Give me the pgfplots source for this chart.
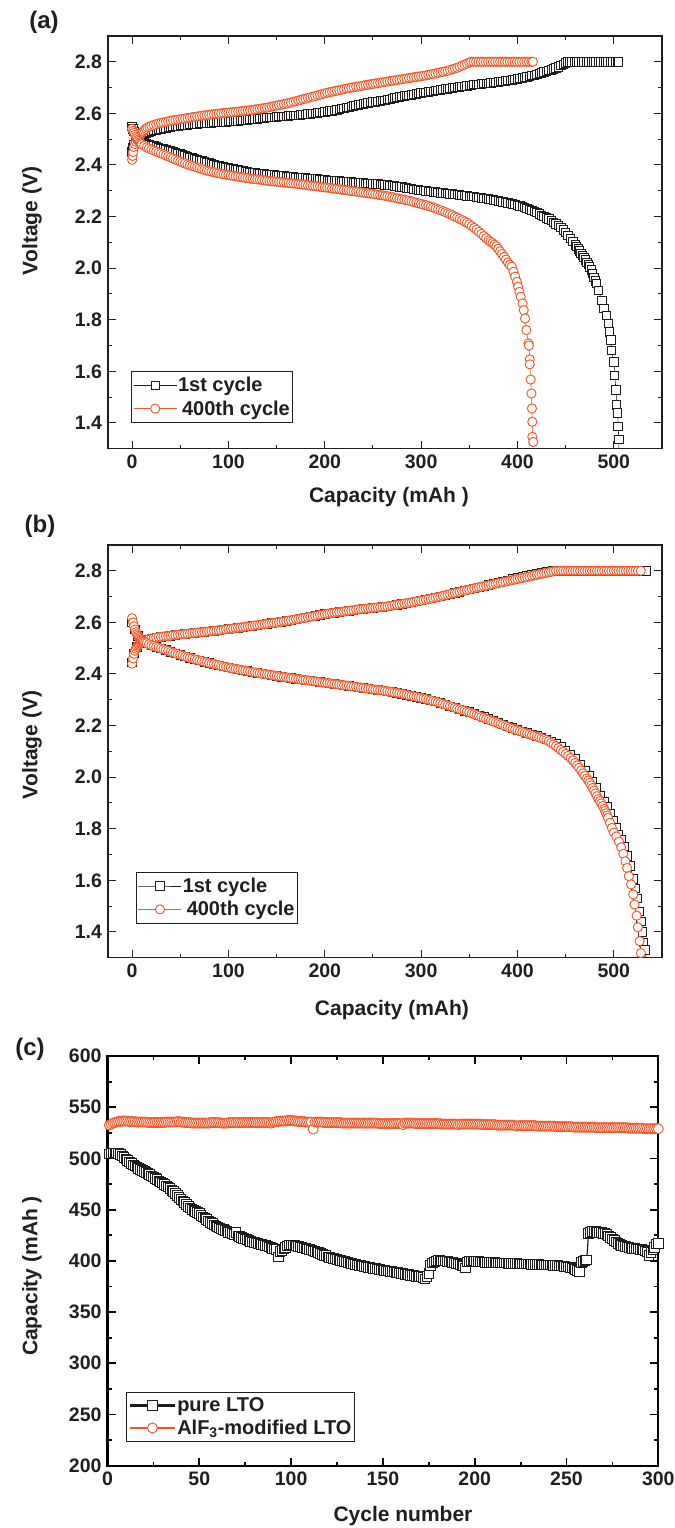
\documentclass[border=0pt]{standalone}
\usepackage{pgfplots}
\pgfplotsset{compat=1.18}
\usepackage{fontspec}
\setmainfont{Liberation Sans}
\definecolor{lto}{RGB}{30,28,29}
\definecolor{alf}{RGB}{240,86,40}
\definecolor{ink}{RGB}{32,30,31}

\pgfplotsset{
  common/.style={
    scale only axis, clip mode=individual,
    tick align=inside,
    major tick length=8bp, minor tick length=4bp,
    /pgf/number format/assume math mode=true,
    tick label style={font=\fontsize{19.5bp}{23bp}\selectfont\bfseries, text=ink},
    xticklabel style={yshift=-3bp},
    yticklabel style={xshift=-2.5bp},
    legend cell align=left,
  },
  vpanel/.style={
    common,
    width=554bp, height=412.7bp,
    xmin=-25, xmax=550, ymin=1.3, ymax=2.9,
    xtick={0,100,200,300,400,500}, minor x tick num=1,
    ytick={1.4,1.6,1.8,2.0,2.2,2.4,2.6,2.8}, minor y tick num=1,
    yticklabel style={/pgf/number format/.cd, fixed, fixed zerofill, precision=1},
    axis line style={line width=1.1bp, draw=ink},
    tick style={line width=1bp, draw=ink},
    legend style={draw=ink, line width=0.9bp, fill=white,
      font=\fontsize{20bp}{24bp}\selectfont\bfseries, text=ink,
      inner xsep=2bp, inner ysep=1.5bp, row sep=-1bp,
      nodes={inner xsep=1bp, inner ysep=4.2bp}},
    legend image code/.code={\draw[mark repeat=2,mark phase=2]
      plot coordinates {(0bp,0bp) (21.5bp,0bp) (43bp,0bp)};},
  },
  sq/.style={lto, line width=0.6bp, mark=square*, mark size=4.2bp,
    mark options={fill=white, line width=0.9bp, solid}},
  ci/.style={alf, line width=0.6bp, mark=*, mark size=4.6bp,
    mark options={fill=white, line width=0.9bp, solid}},
}

\begin{document}
\begin{tikzpicture}[font=\bfseries, text=ink]
\path[use as bounding box] (0bp,0bp) rectangle (675bp,1528bp);

%% ---------------- (a) ----------------
\begin{axis}[vpanel, at={(108bp,1079.3bp)}, anchor=south west,
  legend style={at={(0.0415,0.188)}, anchor=north west}]
% 1st cycle, charge
\addplot[sq] coordinates {(0,2.450)(1,2.468)(2,2.480)(3.5,2.492)(5,2.500)(7.5,2.509)(10,2.515)(12.5,2.519)(15,2.523)(17.5,2.527)(20,2.530)(22.5,2.533)(25,2.535)(27.5,2.538)(30,2.540)(32.5,2.542)(35,2.544)(37.5,2.546)(40,2.548)(42.5,2.549)(45,2.550)(47.5,2.551)(50,2.552)(52.5,2.553)(55,2.554)(57.5,2.555)(60,2.556)(62.5,2.557)(65,2.558)(67.5,2.559)(70,2.560)(72.5,2.560)(75,2.561)(77.5,2.562)(80,2.563)(82.5,2.563)(85,2.564)(87.5,2.565)(90,2.565)(92.5,2.566)(95,2.567)(97.5,2.567)(100,2.568)(102.5,2.569)(105,2.570)(107.5,2.570)(110,2.571)(112.5,2.572)(115,2.573)(117.5,2.574)(120,2.575)(122.5,2.576)(125,2.577)(127.5,2.578)(130,2.579)(132.5,2.580)(135,2.581)(137.5,2.582)(140,2.583)(142.5,2.584)(145,2.585)(147.5,2.585)(150,2.586)(152.5,2.587)(155,2.588)(157.5,2.588)(160,2.589)(162.5,2.590)(165,2.591)(167.5,2.591)(170,2.592)(172.5,2.593)(175,2.594)(177.5,2.595)(180,2.596)(182.5,2.597)(185,2.598)(187.5,2.599)(190,2.600)(192.5,2.601)(195,2.603)(197.5,2.604)(200,2.606)(202.5,2.607)(205,2.609)(207.5,2.610)(210,2.612)(212.5,2.614)(215,2.616)(217.5,2.618)(220,2.620)(222.5,2.622)(225,2.624)(227.5,2.626)(230,2.628)(232.5,2.630)(235,2.632)(237.5,2.634)(240,2.636)(242.5,2.638)(245,2.640)(247.5,2.642)(250,2.644)(252.5,2.645)(255,2.647)(257.5,2.648)(260,2.650)(262.5,2.651)(265,2.653)(267.5,2.655)(270,2.657)(272.5,2.659)(275,2.661)(277.5,2.663)(280,2.665)(282.5,2.667)(285,2.669)(287.5,2.670)(290,2.672)(292.5,2.674)(295,2.676)(297.5,2.677)(300,2.679)(302.5,2.680)(305,2.682)(307.5,2.683)(310,2.685)(312.5,2.686)(315,2.688)(317.5,2.689)(320,2.691)(322.5,2.692)(325,2.694)(327.5,2.695)(330,2.697)(332.5,2.698)(335,2.700)(337.5,2.701)(340,2.703)(342.5,2.704)(345,2.705)(347.5,2.707)(350,2.708)(352.5,2.709)(355,2.711)(357.5,2.712)(360,2.713)(362.5,2.714)(365,2.715)(367.5,2.716)(370,2.717)(372.5,2.718)(375,2.720)(377.5,2.721)(380,2.722)(382.5,2.723)(385,2.724)(387.5,2.725)(390,2.727)(392.5,2.728)(395,2.730)(397.5,2.731)(400,2.733)(402.5,2.735)(405,2.737)(407.5,2.739)(410,2.741)(412.5,2.743)(415,2.746)(417.5,2.748)(420,2.751)(422.5,2.754)(425,2.757)(427.5,2.760)(430,2.763)(432.5,2.766)(435,2.769)(437.5,2.772)(440,2.776)(442.5,2.780)(445,2.785)(447.5,2.790)(450,2.795)(452,2.799)(454,2.800)(456.5,2.800)(459,2.800)(461.5,2.800)(464,2.800)(466.5,2.800)(469,2.800)(471.5,2.800)(474,2.800)(476.5,2.800)(479,2.800)(481.5,2.800)(484,2.800)(486.5,2.800)(489,2.800)(491.5,2.800)(494,2.800)(496.5,2.800)(499,2.800)(501.5,2.800)(504,2.800)(505,2.800)};
\addlegendentry{1st cycle}
% 1st cycle, discharge
\addplot[sq, forget plot] coordinates {(0,2.550)(1,2.540)(2,2.530)(3.5,2.519)(5,2.510)(7.5,2.500)(10,2.492)(12.5,2.487)(15,2.483)(17.5,2.479)(20,2.476)(22.5,2.473)(25,2.470)(27.5,2.467)(30,2.465)(32.5,2.462)(35,2.460)(37.5,2.457)(40,2.454)(42.5,2.451)(45,2.448)(47.5,2.445)(50,2.442)(52.5,2.439)(55,2.436)(57.5,2.433)(60,2.430)(62.5,2.427)(65,2.424)(67.5,2.421)(70,2.418)(72.5,2.415)(75,2.412)(77.5,2.410)(80,2.407)(82.5,2.404)(85,2.402)(87.5,2.399)(90,2.397)(92.5,2.394)(95,2.392)(97.5,2.390)(100,2.388)(102.5,2.386)(105,2.384)(107.5,2.382)(110,2.380)(112.5,2.378)(115,2.377)(117.5,2.375)(120,2.374)(122.5,2.372)(125,2.371)(127.5,2.369)(130,2.368)(132.5,2.367)(135,2.366)(137.5,2.365)(140,2.364)(142.5,2.363)(145,2.362)(147.5,2.361)(150,2.360)(152.5,2.359)(155,2.358)(157.5,2.357)(160,2.356)(162.5,2.355)(165,2.354)(167.5,2.353)(170,2.352)(172.5,2.351)(175,2.350)(177.5,2.349)(180,2.349)(182.5,2.348)(185,2.347)(187.5,2.346)(190,2.345)(192.5,2.345)(195,2.344)(197.5,2.343)(200,2.342)(202.5,2.341)(205,2.341)(207.5,2.340)(210,2.339)(212.5,2.338)(215,2.338)(217.5,2.337)(220,2.336)(222.5,2.335)(225,2.335)(227.5,2.334)(230,2.333)(232.5,2.332)(235,2.332)(237.5,2.331)(240,2.330)(242.5,2.329)(245,2.329)(247.5,2.328)(250,2.327)(252.5,2.326)(255,2.326)(257.5,2.325)(260,2.324)(262.5,2.323)(265,2.322)(267.5,2.321)(270,2.320)(272.5,2.318)(275,2.317)(277.5,2.315)(280,2.314)(282.5,2.312)(285,2.311)(287.5,2.309)(290,2.308)(292.5,2.306)(295,2.305)(297.5,2.303)(300,2.302)(302.5,2.300)(305,2.299)(307.5,2.298)(310,2.297)(312.5,2.296)(315,2.295)(317.5,2.293)(320,2.292)(322.5,2.291)(325,2.290)(327.5,2.289)(330,2.288)(332.5,2.287)(335,2.286)(337.5,2.285)(340,2.284)(342.5,2.282)(345,2.281)(347.5,2.280)(350,2.279)(352.5,2.278)(355,2.277)(357.5,2.275)(360,2.274)(362.5,2.272)(365,2.271)(367.5,2.269)(370,2.268)(372.5,2.266)(375,2.265)(377.5,2.263)(380,2.261)(382.5,2.259)(385,2.257)(387.5,2.255)(390,2.253)(392.5,2.251)(395,2.249)(397.5,2.247)(400,2.244)(402.5,2.241)(405,2.238)(407.5,2.235)(410,2.231)(412.5,2.227)(415,2.223)(417.5,2.219)(420,2.215)(422.5,2.210)(425,2.205)(427.5,2.200)(430,2.195)(432.5,2.190)(435,2.184)(437.5,2.178)(440,2.172)(442.5,2.165)(445,2.157)(447.5,2.148)(450,2.138)(452.5,2.127)(455,2.115)(457.5,2.103)(460,2.090)(461.5,2.083)(463,2.075)(464.5,2.067)(466,2.058)(467.5,2.050)(469,2.041)(470.5,2.032)(472,2.023)(473.5,2.014)(475,2.005)(476.5,1.993)(478,1.980)(479.5,1.963)(481,1.950)(482,1.940)(484,1.914)(487.5,1.875)(489.7,1.843)(492.4,1.817)(494.2,1.785)(495.5,1.753)(497,1.721)(497.7,1.682)(500,1.637)(500.9,1.585)(502.2,1.527)(503,1.469)(504,1.439)(504.4,1.387)(505.3,1.335)(505.3,1.288)};
% 400th cycle, charge
\addplot[ci] coordinates {(0,2.420)(0.5,2.435)(1,2.450)(2,2.470)(3,2.481)(4,2.490)(5,2.498)(6,2.505)(7,2.510)(8,2.515)(9,2.520)(10,2.525)(11.5,2.530)(13,2.535)(14.5,2.540)(16,2.545)(18,2.549)(20,2.552)(22.5,2.555)(25,2.558)(27.5,2.561)(30,2.563)(32.5,2.565)(35,2.567)(37.5,2.569)(40,2.571)(42.5,2.573)(45,2.574)(47.5,2.576)(50,2.577)(52.5,2.579)(55,2.580)(57.5,2.582)(60,2.583)(62.5,2.585)(65,2.586)(67.5,2.588)(70,2.589)(72.5,2.591)(75,2.592)(77.5,2.593)(80,2.594)(82.5,2.596)(85,2.597)(87.5,2.598)(90,2.599)(92.5,2.600)(95,2.601)(97.5,2.602)(100,2.603)(102.5,2.604)(105,2.605)(107.5,2.606)(110,2.607)(112.5,2.608)(115,2.609)(117.5,2.610)(120,2.611)(122.5,2.612)(125,2.613)(127.5,2.615)(130,2.616)(132.5,2.618)(135,2.619)(137.5,2.621)(140,2.622)(142.5,2.624)(145,2.626)(147.5,2.628)(150,2.630)(152.5,2.632)(155,2.634)(157.5,2.636)(160,2.638)(162.5,2.640)(165,2.642)(167.5,2.645)(170,2.647)(172.5,2.650)(175,2.652)(177.5,2.655)(180,2.657)(182.5,2.660)(185,2.662)(187.5,2.665)(190,2.667)(192.5,2.670)(195,2.672)(197.5,2.675)(200,2.677)(202.5,2.680)(205,2.682)(207.5,2.684)(210,2.686)(212.5,2.688)(215,2.690)(217.5,2.692)(220,2.694)(222.5,2.696)(225,2.698)(227.5,2.700)(230,2.701)(232.5,2.703)(235,2.704)(237.5,2.706)(240,2.708)(242.5,2.710)(245,2.711)(247.5,2.713)(250,2.714)(252.5,2.716)(255,2.717)(257.5,2.719)(260,2.720)(262.5,2.722)(265,2.723)(267.5,2.725)(270,2.726)(272.5,2.728)(275,2.729)(277.5,2.731)(280,2.732)(282.5,2.734)(285,2.735)(287.5,2.737)(290,2.738)(292.5,2.740)(295,2.741)(297.5,2.743)(300,2.744)(302.5,2.746)(305,2.747)(307.5,2.749)(310,2.751)(312.5,2.753)(315,2.755)(317.5,2.757)(320,2.759)(322.5,2.761)(325,2.763)(327.5,2.765)(330,2.768)(332.5,2.771)(335,2.774)(337.5,2.777)(340,2.781)(342.5,2.785)(345,2.789)(347.5,2.793)(350,2.797)(352,2.800)(354.5,2.800)(357,2.800)(359.5,2.800)(362,2.800)(364.5,2.800)(367,2.800)(369.5,2.800)(372,2.800)(374.5,2.800)(377,2.800)(379.5,2.800)(382,2.800)(384.5,2.800)(387,2.800)(389.5,2.800)(392,2.800)(394.5,2.800)(397,2.800)(399.5,2.800)(402,2.800)(404.5,2.800)(407,2.800)(409.5,2.800)(412,2.800)(414.5,2.800)(416,2.800)};
\addlegendentry{\hspace{4bp}400th cycle}
% 400th cycle, discharge
\addplot[ci, forget plot] coordinates {(0,2.540)(1,2.532)(2,2.525)(3,2.517)(4,2.510)(5,2.504)(6,2.498)(7,2.493)(8,2.488)(9,2.484)(10,2.480)(12.5,2.474)(15,2.468)(17.5,2.464)(20,2.460)(22.5,2.456)(25,2.452)(27.5,2.448)(30,2.445)(32.5,2.441)(35,2.437)(37.5,2.433)(40,2.429)(42.5,2.425)(45,2.421)(47.5,2.417)(50,2.413)(52.5,2.409)(55,2.406)(57.5,2.402)(60,2.399)(62.5,2.396)(65,2.393)(67.5,2.390)(70,2.387)(72.5,2.384)(75,2.381)(77.5,2.378)(80,2.376)(82.5,2.374)(85,2.372)(87.5,2.370)(90,2.368)(92.5,2.366)(95,2.364)(97.5,2.362)(100,2.361)(102.5,2.359)(105,2.358)(107.5,2.356)(110,2.355)(112.5,2.353)(115,2.352)(117.5,2.350)(120,2.349)(122.5,2.347)(125,2.346)(127.5,2.345)(130,2.344)(132.5,2.343)(135,2.342)(137.5,2.340)(140,2.339)(142.5,2.338)(145,2.337)(147.5,2.336)(150,2.335)(152.5,2.334)(155,2.333)(157.5,2.332)(160,2.331)(162.5,2.330)(165,2.329)(167.5,2.328)(170,2.327)(172.5,2.326)(175,2.325)(177.5,2.324)(180,2.323)(182.5,2.321)(185,2.320)(187.5,2.319)(190,2.318)(192.5,2.317)(195,2.316)(197.5,2.314)(200,2.313)(202.5,2.312)(205,2.311)(207.5,2.309)(210,2.308)(212.5,2.307)(215,2.306)(217.5,2.304)(220,2.303)(222.5,2.302)(225,2.301)(227.5,2.299)(230,2.298)(232.5,2.297)(235,2.296)(237.5,2.294)(240,2.293)(242.5,2.291)(245,2.290)(247.5,2.289)(250,2.288)(252.5,2.286)(255,2.285)(257.5,2.283)(260,2.282)(262.5,2.280)(265,2.279)(267.5,2.277)(270,2.275)(272.5,2.273)(275,2.271)(277.5,2.269)(280,2.267)(282.5,2.265)(285,2.263)(287.5,2.261)(290,2.259)(292.5,2.256)(295,2.254)(297.5,2.251)(300,2.249)(302.5,2.246)(305,2.244)(307.5,2.241)(310,2.238)(312.5,2.235)(315,2.232)(317.5,2.228)(320,2.225)(322.5,2.221)(325,2.217)(327.5,2.213)(330,2.209)(332.5,2.205)(335,2.200)(337.5,2.196)(340,2.191)(342.5,2.186)(345,2.181)(347.5,2.176)(350,2.170)(352.5,2.163)(355,2.156)(357.5,2.149)(360,2.141)(362.5,2.133)(365,2.124)(367.5,2.116)(370,2.108)(372,2.102)(374,2.097)(376,2.091)(378,2.085)(380,2.075)(382,2.065)(384,2.055)(386,2.044)(388,2.033)(390,2.022)(392,2.013)(394,2.006)(395.8,1.986)(397.6,1.967)(399.4,1.947)(400.7,1.928)(402,1.908)(403.4,1.889)(405.2,1.863)(406.5,1.837)(407.9,1.805)(409.2,1.760)(411.4,1.708)(411.9,1.700)(412.8,1.646)(412.8,1.627)(413.7,1.568)(414.5,1.514)(415,1.456)(415.4,1.404)(415.4,1.346)(416.3,1.326)};
\end{axis}

%% ---------------- (b) ----------------
\begin{axis}[vpanel, at={(108bp,570.3bp)}, anchor=south west,
  legend style={at={(0.050,0.208)}, anchor=north west}]
% 1st cycle, charge
\addplot[sq] coordinates {(0,2.445)(2,2.480)(5,2.505)(10,2.524)(15,2.532)(20,2.537)(25,2.541)(30,2.544)(35,2.546)(40,2.548)(45,2.551)(50,2.553)(55,2.555)(60,2.557)(65,2.559)(70,2.561)(75,2.563)(80,2.565)(85,2.567)(90,2.569)(95,2.572)(100,2.574)(105,2.576)(110,2.579)(115,2.581)(120,2.584)(125,2.586)(130,2.589)(135,2.592)(140,2.594)(145,2.597)(150,2.599)(155,2.602)(160,2.605)(165,2.608)(170,2.612)(175,2.615)(180,2.618)(185,2.622)(190,2.625)(195,2.629)(200,2.632)(205,2.635)(210,2.637)(215,2.640)(220,2.642)(225,2.645)(230,2.647)(235,2.650)(240,2.652)(245,2.654)(250,2.656)(255,2.658)(260,2.660)(265,2.662)(270,2.665)(275,2.668)(280,2.671)(285,2.674)(290,2.677)(295,2.681)(300,2.684)(305,2.688)(310,2.692)(315,2.696)(320,2.700)(325,2.705)(330,2.709)(335,2.714)(340,2.718)(345,2.723)(350,2.727)(355,2.732)(360,2.736)(365,2.740)(370,2.745)(375,2.750)(380,2.754)(385,2.759)(390,2.763)(395,2.768)(400,2.772)(405,2.776)(410,2.780)(415,2.784)(420,2.788)(425,2.792)(430,2.796)(436,2.800)(440,2.800)(445,2.800)(450,2.800)(455,2.800)(460,2.800)(465,2.800)(470,2.800)(475,2.800)(480,2.800)(485,2.800)(490,2.800)(495,2.800)(500,2.800)(505,2.800)(510,2.800)(515,2.800)(520,2.800)(525,2.800)(530,2.800)(534,2.800)};
\addlegendentry{1st cycle}
% 1st cycle, discharge
\addplot[sq, forget plot] coordinates {(0,2.600)(3,2.572)(6,2.548)(10,2.531)(15,2.519)(20,2.511)(25,2.505)(30,2.499)(35,2.493)(40,2.486)(45,2.480)(50,2.474)(55,2.468)(60,2.462)(65,2.457)(70,2.452)(75,2.447)(80,2.442)(85,2.438)(90,2.434)(95,2.429)(100,2.425)(105,2.421)(110,2.418)(115,2.414)(120,2.411)(125,2.407)(130,2.404)(135,2.401)(140,2.398)(145,2.395)(150,2.392)(155,2.389)(160,2.387)(165,2.384)(170,2.381)(175,2.379)(180,2.376)(185,2.374)(190,2.371)(195,2.369)(200,2.366)(205,2.364)(210,2.361)(215,2.359)(220,2.356)(225,2.354)(230,2.351)(235,2.348)(240,2.346)(245,2.343)(250,2.340)(255,2.338)(260,2.336)(265,2.333)(270,2.330)(275,2.327)(280,2.323)(285,2.319)(290,2.315)(295,2.311)(300,2.307)(305,2.303)(310,2.298)(315,2.293)(320,2.287)(325,2.281)(330,2.275)(335,2.269)(340,2.263)(345,2.257)(350,2.253)(355,2.246)(360,2.240)(365,2.233)(370,2.226)(375,2.219)(380,2.212)(385,2.205)(390,2.197)(395,2.190)(400,2.183)(405,2.177)(410,2.171)(415,2.165)(420,2.159)(425,2.153)(430,2.146)(435,2.139)(440,2.130)(445,2.117)(450,2.102)(455,2.086)(460,2.070)(465,2.050)(470,2.026)(474,2.005)(478,1.981)(482,1.958)(486,1.930)(490,1.904)(493,1.884)(496,1.860)(499,1.833)(502,1.803)(505,1.778)(508,1.757)(511,1.732)(514,1.695)(517,1.655)(520,1.605)(522.5,1.568)(524.6,1.530)(526.5,1.480)(528,1.440)(529.5,1.400)(531,1.360)(532.5,1.330)(533.5,1.295)};
% 400th cycle, charge
\addplot[ci] coordinates {(0,2.440)(1,2.460)(2,2.478)(3,2.490)(4,2.498)(5,2.505)(6,2.510)(7,2.514)(8,2.518)(9,2.521)(10,2.524)(12.5,2.528)(15,2.532)(17.5,2.535)(20,2.537)(22.5,2.539)(25,2.541)(27.5,2.543)(30,2.544)(32.5,2.545)(35,2.546)(37.5,2.547)(40,2.548)(42.5,2.550)(45,2.551)(47.5,2.552)(50,2.553)(52.5,2.554)(55,2.555)(57.5,2.556)(60,2.557)(62.5,2.558)(65,2.559)(67.5,2.560)(70,2.561)(72.5,2.562)(75,2.563)(77.5,2.564)(80,2.565)(82.5,2.566)(85,2.567)(87.5,2.568)(90,2.569)(92.5,2.570)(95,2.572)(97.5,2.573)(100,2.574)(102.5,2.575)(105,2.576)(107.5,2.578)(110,2.579)(112.5,2.580)(115,2.581)(117.5,2.583)(120,2.584)(122.5,2.585)(125,2.586)(127.5,2.588)(130,2.589)(132.5,2.590)(135,2.592)(137.5,2.593)(140,2.594)(142.5,2.596)(145,2.597)(147.5,2.598)(150,2.599)(152.5,2.601)(155,2.602)(157.5,2.604)(160,2.605)(162.5,2.607)(165,2.608)(167.5,2.610)(170,2.612)(172.5,2.613)(175,2.615)(177.5,2.617)(180,2.618)(182.5,2.620)(185,2.622)(187.5,2.623)(190,2.625)(192.5,2.627)(195,2.629)(197.5,2.630)(200,2.632)(202.5,2.633)(205,2.635)(207.5,2.636)(210,2.637)(212.5,2.639)(215,2.640)(217.5,2.641)(220,2.642)(222.5,2.644)(225,2.645)(227.5,2.646)(230,2.647)(232.5,2.649)(235,2.650)(237.5,2.651)(240,2.652)(242.5,2.653)(245,2.654)(247.5,2.655)(250,2.656)(252.5,2.657)(255,2.658)(257.5,2.659)(260,2.660)(262.5,2.661)(265,2.662)(267.5,2.664)(270,2.665)(272.5,2.667)(275,2.668)(277.5,2.670)(280,2.671)(282.5,2.673)(285,2.674)(287.5,2.676)(290,2.677)(292.5,2.679)(295,2.681)(297.5,2.683)(300,2.684)(302.5,2.686)(305,2.688)(307.5,2.690)(310,2.692)(312.5,2.694)(315,2.696)(317.5,2.698)(320,2.700)(322.5,2.703)(325,2.705)(327.5,2.707)(330,2.709)(332.5,2.712)(335,2.714)(337.5,2.716)(340,2.718)(342.5,2.721)(345,2.723)(347.5,2.725)(350,2.727)(352.5,2.730)(355,2.732)(357.5,2.734)(360,2.736)(362.5,2.738)(365,2.740)(367.5,2.742)(370,2.744)(372.5,2.746)(375,2.748)(377.5,2.750)(380,2.752)(382.5,2.754)(385,2.756)(387.5,2.758)(390,2.760)(392.5,2.762)(395,2.764)(397.5,2.766)(400,2.768)(402.5,2.770)(405,2.772)(407.5,2.774)(410,2.776)(412.5,2.778)(415,2.780)(417.5,2.782)(420,2.784)(422.5,2.786)(425,2.788)(427.5,2.790)(430,2.792)(432.5,2.794)(435,2.796)(437.5,2.798)(440,2.800)(442.5,2.800)(445,2.800)(447.5,2.800)(450,2.800)(452.5,2.800)(455,2.800)(457.5,2.800)(460,2.800)(462.5,2.800)(465,2.800)(467.5,2.800)(470,2.800)(472.5,2.800)(475,2.800)(477.5,2.800)(480,2.800)(482.5,2.800)(485,2.800)(487.5,2.800)(490,2.800)(492.5,2.800)(495,2.800)(497.5,2.800)(500,2.800)(502.5,2.800)(505,2.800)(507.5,2.800)(510,2.800)(512.5,2.800)(515,2.800)(517.5,2.800)(520,2.800)(522.5,2.800)(525,2.800)(528,2.800)};
\addlegendentry{\hspace{4bp}400th cycle}
% 400th cycle, discharge
\addplot[ci, forget plot] coordinates {(0,2.616)(1,2.600)(2,2.585)(3,2.572)(4,2.562)(5,2.554)(6,2.548)(7,2.543)(8,2.538)(9,2.534)(10,2.531)(11,2.528)(12,2.525)(13.5,2.522)(15,2.519)(17.5,2.515)(20,2.511)(22.5,2.508)(25,2.505)(27.5,2.502)(30,2.499)(32.5,2.496)(35,2.493)(37.5,2.490)(40,2.486)(42.5,2.483)(45,2.480)(47.5,2.477)(50,2.474)(52.5,2.471)(55,2.468)(57.5,2.465)(60,2.462)(62.5,2.460)(65,2.457)(67.5,2.455)(70,2.452)(72.5,2.450)(75,2.447)(77.5,2.445)(80,2.442)(82.5,2.440)(85,2.438)(87.5,2.436)(90,2.434)(92.5,2.431)(95,2.429)(97.5,2.427)(100,2.425)(102.5,2.423)(105,2.421)(107.5,2.420)(110,2.418)(112.5,2.416)(115,2.414)(117.5,2.413)(120,2.411)(122.5,2.409)(125,2.407)(127.5,2.406)(130,2.404)(132.5,2.403)(135,2.401)(137.5,2.400)(140,2.398)(142.5,2.397)(145,2.395)(147.5,2.394)(150,2.392)(152.5,2.391)(155,2.389)(157.5,2.388)(160,2.387)(162.5,2.385)(165,2.384)(167.5,2.383)(170,2.381)(172.5,2.380)(175,2.379)(177.5,2.377)(180,2.376)(182.5,2.375)(185,2.374)(187.5,2.372)(190,2.371)(192.5,2.370)(195,2.369)(197.5,2.367)(200,2.366)(202.5,2.365)(205,2.364)(207.5,2.362)(210,2.361)(212.5,2.360)(215,2.359)(217.5,2.357)(220,2.356)(222.5,2.355)(225,2.354)(227.5,2.352)(230,2.351)(232.5,2.350)(235,2.348)(237.5,2.347)(240,2.346)(242.5,2.344)(245,2.343)(247.5,2.342)(250,2.340)(252.5,2.339)(255,2.338)(257.5,2.337)(260,2.336)(262.5,2.334)(265,2.333)(267.5,2.331)(270,2.330)(272.5,2.328)(275,2.327)(277.5,2.325)(280,2.323)(282.5,2.321)(285,2.319)(287.5,2.317)(290,2.315)(292.5,2.313)(295,2.311)(297.5,2.309)(300,2.307)(302.5,2.305)(305,2.303)(307.5,2.300)(310,2.298)(312.5,2.295)(315,2.293)(317.5,2.290)(320,2.287)(322.5,2.284)(325,2.281)(327.5,2.278)(330,2.275)(332.5,2.272)(335,2.269)(337.5,2.266)(340,2.263)(342.5,2.260)(345,2.257)(347.5,2.254)(350,2.251)(352.5,2.247)(355,2.244)(357.5,2.240)(360,2.237)(362.5,2.233)(365,2.230)(367.5,2.226)(370,2.223)(372.5,2.219)(375,2.216)(377.5,2.212)(380,2.209)(382.5,2.205)(385,2.202)(387.5,2.198)(390,2.195)(392.5,2.191)(395,2.188)(397.5,2.184)(400,2.181)(402.5,2.178)(405,2.175)(407.5,2.172)(410,2.169)(412.5,2.166)(415,2.163)(417.5,2.160)(420,2.157)(422.5,2.154)(425,2.151)(427.5,2.148)(430,2.144)(432.5,2.139)(435,2.133)(437.5,2.127)(440,2.120)(442.5,2.113)(445,2.105)(447.5,2.098)(450,2.090)(452.5,2.082)(455,2.074)(457.5,2.065)(460,2.055)(462,2.046)(464,2.036)(466,2.026)(468,2.015)(470,2.005)(472,1.995)(473.5,1.987)(475,1.978)(476.5,1.968)(478,1.958)(479.5,1.948)(481,1.937)(482.5,1.926)(484,1.915)(485.5,1.907)(487,1.898)(488.5,1.888)(490,1.877)(491,1.869)(492,1.860)(493,1.851)(494,1.842)(496,1.823)(498,1.803)(500,1.785)(502.5,1.770)(505.3,1.750)(507.6,1.728)(509.8,1.703)(512,1.674)(513.8,1.648)(515.6,1.616)(517.9,1.584)(520.1,1.545)(521.5,1.506)(523.7,1.463)(525,1.418)(526.8,1.364)(528.1,1.318)(529,1.295)};
\end{axis}

%% ---------------- (c) ----------------
\begin{axis}[common, at={(107.5bp,62.3bp)}, anchor=south west,
  width=550.8bp, height=409.7bp,
  xmin=0, xmax=300, ymin=200, ymax=600,
  xtick={0,50,...,300}, minor x tick num=1,
  ytick={200,250,...,600}, minor y tick num=1,
  axis line style={line width=2.2bp, draw=black},
  tick style={line width=1.8bp, draw=black},
  legend style={at={(0.034,0.181)}, anchor=north west,
    draw=ink, line width=0.9bp, fill=white,
    font=\fontsize{20bp}{24bp}\selectfont\bfseries, text=ink,
    inner xsep=2bp, inner ysep=2bp, row sep=0bp,
    nodes={inner xsep=1bp, inner ysep=3.5bp}},
  legend image code/.code={\draw[line width=2.6bp] (0bp,0bp)--(45bp,0bp);
    \draw[mark repeat=2,mark phase=2]
      plot coordinates {(0bp,0bp) (22.5bp,0bp) (45bp,0bp)};},
]
\addplot[lto, line width=1.2bp, mark=square*, mark size=4.8bp,
  mark options={fill=white, line width=0.9bp, solid}] coordinates {(1,504.5)(2,505)(3,505.5)(4,505.5)(5,505.5)(6,505)(7,504)(8,502.5)(9,501)(10,499.5)(11,498)(12,496.5)(13,495)(14,493.5)(15,492.5)(16,491.5)(17,490.5)(18,489.5)(19,488.5)(20,487.5)(21,486.5)(22,485.5)(23,484.5)(24,483)(25,482)(26,480.5)(27,479.5)(28,478)(29,477)(30,476)(31,474.5)(32,473)(33,472)(34,470.5)(35,469)(36,467.5)(37,466)(38,464)(39,462)(40,460)(41,458.5)(42,457)(43,455)(44,453)(45,451.5)(46,450)(47,449)(48,448)(49,447)(50,446)(51,444.5)(52,443)(53,442)(54,440.5)(55,439)(56,437.5)(57,436.5)(58,435)(59,434)(60,433)(61,432)(62,431)(63,430.5)(64,429.5)(65,429)(66,428)(67,427.5)(68,426.5)(69,426)(70,427.5)(71,424.5)(72,424)(73,423)(74,422)(75,421.5)(76,421)(77,420)(78,419)(79,418.5)(80,418)(81,417.5)(82,417)(83,416.5)(84,416)(85,415.5)(86,415)(87,414.5)(88,413.5)(89,413)(90,412)(91,411.5)(92,411)(93,404)(94,409)(95,410)(96,411.5)(97,413)(98,414.5)(99,415.5)(100,415.5)(101,415.5)(102,415)(103,414.5)(104,414)(105,413.5)(106,413)(107,412.5)(108,412)(109,411.5)(110,411)(111,410.5)(112,409.5)(113,409)(114,408.5)(115,408)(116,407)(117,406.5)(118,405.5)(119,405)(120,404)(121,403.5)(122,403)(123,402.5)(124,402)(125,401.5)(126,401)(127,400.5)(128,400)(129,399.5)(130,399)(131,398.5)(132,398)(133,397.5)(134,397)(135,396.5)(136,396)(137,395.5)(138,395.5)(139,395)(140,394.5)(141,394)(142,393.5)(143,393.5)(144,393)(145,392.5)(146,392.5)(147,392)(148,391.5)(149,391)(150,391)(151,390.5)(152,390)(153,390)(154,389.5)(155,389.5)(156,389)(157,388.5)(158,388.5)(159,388)(160,387.5)(161,387.5)(162,387)(163,386.5)(164,386.5)(165,386)(166,385.5)(167,385.5)(168,385)(169,385)(170,384.5)(171,384.5)(172,384)(173,382.5)(174,384.5)(175,387.5)(176,395.5)(177,398)(178,399)(179,400)(180,400.5)(181,400.5)(182,400)(183,400)(184,400)(185,399.5)(186,399)(187,399)(188,398.5)(189,398)(190,397.5)(191,397)(192,396.5)(193,395.5)(194,395)(195,393)(196,399)(197,399.5)(198,400)(199,400)(200,400)(201,399.5)(202,399.5)(203,399)(204,399)(205,399)(206,398.5)(207,398.5)(208,398.5)(209,398.5)(210,398.5)(211,398.5)(212,398)(213,398)(214,398)(215,398)(216,398)(217,398)(218,397.5)(219,397.5)(220,397.5)(221,397.5)(222,397.5)(223,397.5)(224,397)(225,397)(226,397)(227,397)(228,397)(229,397)(230,397)(231,396.5)(232,396.5)(233,396.5)(234,396.5)(235,396.5)(236,396)(237,396)(238,396)(239,396)(240,396)(241,396)(242,396)(243,395.5)(244,395.5)(245,395.5)(246,395)(247,395)(248,395)(249,394.5)(250,394)(251,394)(252,393.5)(253,393)(254,392.5)(255,391.5)(256,390.5)(257,389.5)(258,398.5)(259,399.5)(260,400.5)(261,401)(262,427)(263,428)(264,428.5)(265,428.5)(266,428.5)(267,428)(268,427.5)(269,427.5)(270,427)(271,426.5)(272,425.5)(273,424.5)(274,423)(275,421.5)(276,420)(277,418.5)(278,417)(279,416)(280,415)(281,414.5)(282,414)(283,413.5)(284,413)(285,412.5)(286,412)(287,412)(288,411.5)(289,411.5)(290,411)(291,411)(292,410.5)(293,409.5)(294,408.5)(295,405)(296,408)(297,410.5)(298,413)(299,416.5)(300,417)};
\addlegendentry{pure LTO}
\addplot[alf, line width=1.2bp, mark=*, mark size=5bp,
  mark options={fill=white, line width=0.9bp, solid}] coordinates {(1,532.5)(2,533.5)(3,534.5)(4,535)(5,535.5)(6,536)(7,536)(8,536.5)(9,536.5)(10,536.5)(11,536.5)(12,536)(13,536)(14,536)(15,536)(16,535.5)(17,535.5)(18,535.5)(19,535.5)(20,535.5)(21,535.5)(22,535)(23,535)(24,535)(25,535)(26,535)(27,535)(28,535)(29,535)(30,535)(31,535)(32,535.5)(33,535.5)(34,535.5)(35,535.5)(36,535.5)(37,535.5)(38,536)(39,536)(40,535.5)(41,535.5)(42,535)(43,535)(44,535)(45,535)(46,534.5)(47,534.5)(48,534.5)(49,534.5)(50,534.5)(51,534.5)(52,534.5)(53,534.5)(54,534.5)(55,534.5)(56,535)(57,535)(58,535)(59,535)(60,535)(61,535)(62,534.5)(63,534.5)(64,534.5)(65,534.5)(66,535)(67,535)(68,535)(69,535)(70,535)(71,535)(72,535)(73,535)(74,535)(75,535)(76,535)(77,535)(78,535)(79,535)(80,535)(81,535)(82,535)(83,535)(84,535)(85,535)(86,535)(87,535)(88,535)(89,534.5)(90,535)(91,535.5)(92,536)(93,536)(94,536.5)(95,536.5)(96,536.5)(97,536.5)(98,537)(99,537)(100,537)(101,537)(102,536.5)(103,536.5)(104,536)(105,536)(106,536)(107,536)(108,535.5)(109,535.5)(110,535.5)(111,535.5)(112,528.6)(113,535.5)(114,535.5)(115,535.5)(116,535.5)(117,535.5)(118,535)(119,535)(120,535)(121,535)(122,535)(123,535)(124,535)(125,535)(126,535)(127,535)(128,534.5)(129,534.5)(130,534.5)(131,534.5)(132,534.5)(133,534.5)(134,534.5)(135,534.5)(136,534.5)(137,534.5)(138,534.5)(139,534.5)(140,534.5)(141,534.5)(142,534.5)(143,534.5)(144,534.5)(145,534.5)(146,534.5)(147,534.5)(148,534)(149,534)(150,534)(151,534)(152,534)(153,534)(154,534)(155,534)(156,534)(157,534)(158,534)(159,534)(160,534)(161,533)(162,534.5)(163,534.5)(164,534.5)(165,534.5)(166,534.5)(167,534.5)(168,534)(169,534)(170,534)(171,534)(172,534)(173,534)(174,534)(175,534)(176,534)(177,534)(178,534)(179,534)(180,534)(181,534)(182,533.5)(183,533.5)(184,533.5)(185,533.5)(186,533.5)(187,533.5)(188,533.5)(189,533.5)(190,533.5)(191,533)(192,533.5)(193,533.5)(194,533.5)(195,533.5)(196,533.5)(197,533.5)(198,533.5)(199,533.5)(200,533.5)(201,533.5)(202,533.5)(203,533.5)(204,533)(205,533)(206,533)(207,533)(208,533)(209,533)(210,533)(211,533)(212,532.5)(213,532.5)(214,532.5)(215,532.5)(216,532.5)(217,532.5)(218,532.5)(219,532.5)(220,532.5)(221,532.5)(222,532)(223,531.5)(224,532)(225,532)(226,532)(227,532)(228,532)(229,532)(230,532)(231,532)(232,532)(233,532)(234,531.5)(235,531.5)(236,531.5)(237,531.5)(238,531.5)(239,531.5)(240,531.5)(241,531.5)(242,531.5)(243,531.5)(244,531)(245,531)(246,531)(247,531)(248,531)(249,531)(250,531)(251,531)(252,531)(253,531)(254,530.5)(255,530.5)(256,530.5)(257,530.5)(258,530.5)(259,530.5)(260,530.5)(261,530.5)(262,530.5)(263,530.5)(264,530.5)(265,530.5)(266,530)(267,530)(268,530)(269,530)(270,530)(271,530)(272,530)(273,530)(274,530)(275,530)(276,530)(277,530)(278,530)(279,530)(280,530)(281,530)(282,530)(283,530)(284,529.5)(285,529.5)(286,529.5)(287,529.5)(288,529.5)(289,529.5)(290,529.5)(291,529.5)(292,529)(293,529)(294,529)(295,529)(296,529)(297,529)(298,529)(299,529)(300,529)};
\addlegendentry{AlF\textsubscript{3}-modified LTO}
\end{axis}

%% axis titles and panel letters
\begin{scope}[every node/.style={font=\fontsize{21bp}{25bp}\selectfont\bfseries, text=ink}]
\node at (389bp,1031.3bp) {Capacity (mAh )};
\node[rotate=90] at (32bp,1307bp) {Voltage (V)};
\node at (392bp,518bp) {Capacity (mAh)};
\node[rotate=90] at (32bp,783bp) {Voltage (V)};
\node at (403bp,12bp) {Cycle number};
\node[rotate=90] at (32bp,252bp) {Capacity (mAh )};
\end{scope}
\begin{scope}[every node/.style={font=\fontsize{24bp}{28bp}\selectfont\bfseries, text=ink}]
\node at (44bp,1506bp) {(a)};
\node at (40bp,1002bp) {(b)};
\node at (30bp,479bp) {(c)};
\end{scope}
\end{tikzpicture}
\end{document}
